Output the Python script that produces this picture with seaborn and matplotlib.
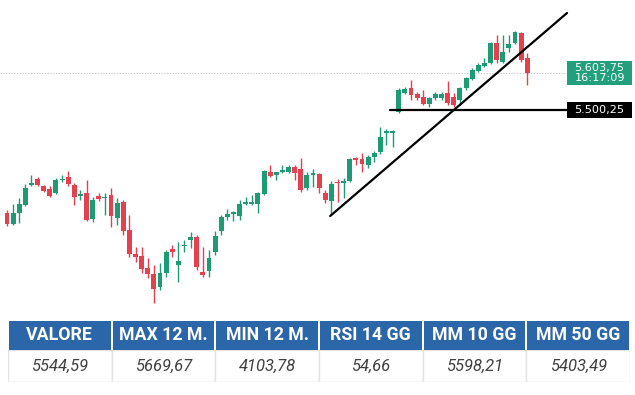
import numpy as np
import pandas as pd
import matplotlib
matplotlib.use('Agg')
import matplotlib.pyplot as plt
from matplotlib.patches import Rectangle
import seaborn as sns

sns.set_theme(style='white')
plt.rcParams['font.family'] = ['Roboto', 'DejaVu Sans']

# daily candles
opens = [5212, 5181, 5212, 5234, 5290, 5307, 5287, 5279, 5268, 5304,
         5312, 5290, 5259, 5268, 5195, 5259, 5254, 5262, 5198, 5242,
         5164, 5097, 5091, 5058, 5041, 5004, 5044, 5111, 5066, 5119,
         5136, 5144, 5046, 5049, 5102, 5161, 5200, 5210, 5203, 5237,
         5237, 5237, 5265, 5326, 5318, 5326, 5326, 5340, 5335, 5282,
         5318, 5321, 5268, 5245, 5298, 5296, 5301, 5366, 5363, 5346,
         5368, 5382, 5437, 5437, 5494, 5548, 5562, 5545, 5536, 5517,
         5534, 5534, 5548, 5536, 5528, 5562, 5587, 5609, 5623, 5632,
         5688, 5634, 5674, 5688, 5716, 5646]
highs = [5220, 5237, 5254, 5293, 5318, 5312, 5290, 5287, 5310, 5318,
         5329, 5296, 5276, 5304, 5256, 5268, 5268, 5282, 5254, 5248,
         5206, 5116, 5116, 5086, 5066, 5072, 5108, 5122, 5130, 5136,
         5158, 5150, 5116, 5108, 5161, 5206, 5223, 5217, 5248, 5256,
         5262, 5270, 5332, 5346, 5328, 5346, 5346, 5346, 5366, 5326,
         5335, 5324, 5276, 5301, 5307, 5310, 5366, 5368, 5380, 5374,
         5385, 5452, 5447, 5444, 5562, 5564, 5584, 5550, 5556, 5536,
         5550, 5550, 5581, 5548, 5564, 5592, 5618, 5632, 5646, 5690,
         5710, 5710, 5710, 5721, 5718, 5660]
lows = [5176, 5178, 5184, 5231, 5287, 5287, 5270, 5256, 5265, 5298,
        5287, 5234, 5248, 5190, 5187, 5245, 5206, 5172, 5178, 5150,
        5088, 5074, 5044, 5030, 4960, 4996, 5032, 5088, 5018, 5102,
        5114, 5052, 5032, 5032, 5094, 5150, 5192, 5189, 5192, 5234,
        5234, 5212, 5262, 5312, 5304, 5324, 5324, 5304, 5270, 5276,
        5284, 5268, 5240, 5206, 5242, 5254, 5298, 5346, 5326, 5338,
        5354, 5377, 5402, 5396, 5492, 5545, 5528, 5528, 5514, 5508,
        5528, 5528, 5514, 5508, 5514, 5556, 5584, 5606, 5620, 5629,
        5632, 5632, 5662, 5685, 5634, 5570]
closes = [5181, 5212, 5237, 5282, 5296, 5290, 5273, 5259, 5304, 5307,
          5293, 5256, 5265, 5192, 5248, 5251, 5257, 5203, 5240, 5161,
          5097, 5088, 5055, 5041, 4999, 5044, 5102, 5102, 5077, 5122,
          5144, 5060, 5038, 5086, 5147, 5200, 5209, 5213, 5237, 5242,
          5242, 5268, 5329, 5315, 5326, 5332, 5340, 5324, 5276, 5318,
          5324, 5282, 5248, 5293, 5296, 5301, 5363, 5360, 5349, 5368,
          5380, 5424, 5440, 5440, 5556, 5559, 5542, 5534, 5517, 5534,
          5545, 5545, 5520, 5514, 5562, 5590, 5612, 5626, 5632, 5688,
          5640, 5662, 5685, 5718, 5640, 5603.75]

last_price = 5603.75
last_time = '16:17:09'
support = 5500.25
support_x = [62.6, 91.5]
trend_x = [52.8, 91.5]
trend_y = [5203.7, 5771.6]

headers = ['VALORE', 'MAX 12 M.', 'MIN 12 M.', 'RSI 14 GG', 'MM 10 GG', 'MM 50 GG']
values = ['5544,59', '5669,67', '4103,78', '54,66', '5598,21', '5403,49']

GREEN = '#1d9b74'
RED = '#e5404f'
BLUE = '#2b66a9'

df = pd.DataFrame({'open': opens, 'high': highs, 'low': lows, 'close': closes})
df['idx'] = np.arange(len(df))
df['up'] = df['close'] >= df['open']

fig = plt.figure(figsize=(6.35, 3.95), dpi=100)
ax = fig.add_axes([0, 85 / 395, 1, 310 / 395])
ax.set_xlim(-1.14, 102.6)
ax.set_ylim(4940.8, 5807.95)
ax.axis('off')

# current price dotted line
ax.hlines(last_price, -1.14, 91.5, colors='#c4c4c4', linestyles=(0, (1, 1.5)), lw=0.8, zorder=1)

for up, color in [(True, GREEN), (False, RED)]:
    sub = df[df['up'] == up]
    ax.vlines(sub['idx'], sub['low'], sub['high'], colors=color, lw=1, zorder=2)
    body = (sub['close'] - sub['open']).abs().clip(lower=4)
    bottom = sub[['open', 'close']].min(axis=1)
    ax.bar(sub['idx'], body, bottom=bottom, width=0.8, color=color, lw=0, zorder=3)

sns.lineplot(x=trend_x, y=trend_y, ax=ax, color='black', lw=1.6, zorder=4)
sns.lineplot(x=support_x, y=[support, support], ax=ax, color='black', lw=1.6, zorder=4)

# price tags on the right
tr = ax.get_yaxis_transform()
ax.add_patch(Rectangle((567 / 635, last_price - 33.5), 65 / 635, 67, transform=tr,
                       color='#22a07e', lw=0, zorder=5, clip_on=False))
ax.text(599.5 / 635, last_price, '5.603,75\n' + last_time, transform=tr, ha='center', va='center',
        color='white', fontsize=8.1, linespacing=1.05, family=['DejaVu Sans'], zorder=6)
ax.add_patch(Rectangle((567 / 635, support - 22), 65 / 635, 44, transform=tr,
                       color='black', lw=0, zorder=5, clip_on=False))
ax.text(599.5 / 635, support, '5.500,25', transform=tr, ha='center', va='center',
        color='white', fontsize=8.1, family=['DejaVu Sans'], zorder=6)

# table
tax = fig.add_axes([8 / 635, 13 / 395, 622 / 635, 61 / 395])
tax.set_xlim(0, 6)
tax.set_ylim(0, 1)
tax.axis('off')
split = 32 / 61
for i, (h, v) in enumerate(zip(headers, values)):
    tax.add_patch(Rectangle((i, 0), 1, split, fc='white', ec='#e4e4e4', lw=1))
    tax.add_patch(Rectangle((i + 0.01, split), 0.98, 1 - split, fc=BLUE, lw=0))
    tax.text(i + 0.5, split + (1 - split) / 2, h, ha='center', va='center',
             color='white', fontsize=12.8, fontweight='bold')
    tax.text(i + 0.5, split / 2, v, ha='center', va='center',
             color='#404040', fontsize=12, fontstyle='italic')

fig.savefig('out.png', dpi=100)
